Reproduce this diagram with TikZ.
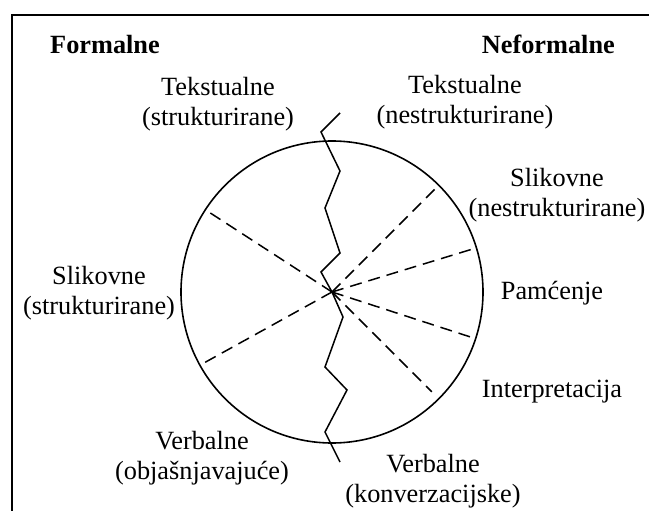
\documentclass[tikz,border=0pt]{standalone}
\usepackage{fontspec}
\setmainfont{Liberation Serif}
\usetikzlibrary{calc}
\begin{document}
\begin{tikzpicture}[x=1pt,y=-1pt,
  lbl/.style={align=center,inner sep=0pt,anchor=base,font=\fontsize{26.3}{30}\selectfont},
  hdr/.style={inner sep=0pt,font=\fontsize{26.3}{30}\selectfont\bfseries},
  ray/.style={line width=1.5pt,dash pattern=on 12pt off 7pt},
  solid line/.style={line width=1.5pt}]
\useasboundingbox (0,0) rectangle (649,511);
% frame (left and top sides)
\draw[line width=1.8pt] (12,511) -- (12,15) -- (649,15);
% circle
\coordinate (c) at (332,292);
\node[draw,circle,line width=1.6pt,minimum size=302pt,inner sep=0pt] (circ) at (c) {};
% dashed rays
\draw[ray] (c) -- (circ.147.5);
\draw[ray] (c) -- (circ.209);
\draw[ray] (c) -- (circ.45.3);
\draw[ray] (c) -- (circ.17.1);
\draw[ray] (c) -- (circ.-18);
\draw[ray] (c) -- ($(c)!0.93!(circ.-45.5)$);
% zigzag boundary
\draw[solid line,line join=miter] (340,113) -- (321,132) -- (340,171) -- (325,208) -- (340,253) -- (321,272) -- (332,292) -- (343,317) -- (325,367) -- (347,390) -- (325,432) -- (340,462);
% headers
\node[hdr,anchor=base west] (formal) at (50,54) {Formalne};
\node[hdr,anchor=base east] (neformal) at (615,54) {Neformalne};
% labels (base anchor = baseline of last line)
\node[lbl] (tekstL) at (218,125) {Tekstualne\\(strukturirane)};
\node[lbl] (tekstR) at (465,124) {Tekstualne\\(nestrukturirane)};
\node[lbl] (slikR) at (557,216) {Slikovne\\(nestrukturirane)};
\node[lbl] (slikL) at (99,314) {Slikovne\\(strukturirane)};
\node[lbl] (pam) at (552,299) {Pamćenje};
\node[lbl] (interp) at (552,397) {Interpretacija};
\node[lbl] (verbL) at (202,479) {Verbalne\\(objašnjavajuće)};
\node[lbl] (verbR) at (433,502) {Verbalne\\(konverzacijske)};
\end{tikzpicture}
\end{document}
